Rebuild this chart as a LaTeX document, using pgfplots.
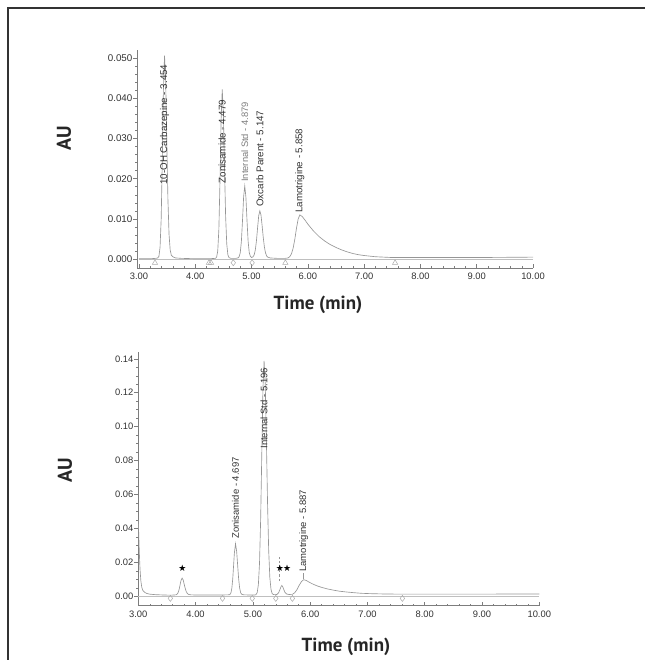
\documentclass[border=0pt]{standalone}
\usepackage{fontspec}
\setmainfont{Liberation Sans}
\newfontfamily\titlefont{PT Sans}
\newfontfamily\dejavu{DejaVu Sans}
\usepackage{pgfplots}
\pgfplotsset{compat=1.18}
\definecolor{tracegray}{RGB}{150,150,150}
\definecolor{axisgray}{RGB}{125,125,125}
\definecolor{labelgray}{RGB}{50,50,50}
\definecolor{markgray}{RGB}{170,170,170}
\definecolor{lightlabel}{RGB}{125,125,125}
\tikzset{peaklbl/.style={rotate=90, anchor=west, inner sep=0pt, text=labelgray}}
\begin{document}
\begin{tikzpicture}
\useasboundingbox (0,0) rectangle (645bp,660bp);
\pgfplotsset{
  chrom/.style={
    scale only axis, anchor=south west,
    axis x line*=bottom, axis y line*=left,
    axis line style={axisgray, line width=0.7bp},
    xtick={3,4,5,6,7,8,9,10}, minor x tick num=4,
    xtick align=inside, ytick align=outside,
    major tick length=4bp, minor tick length=2bp,
    every tick/.style={axisgray, line width=0.5bp},
    tick label style={font=\fontsize{9.4}{10}\selectfont, text=labelgray},
    xticklabel style={/pgf/number format/.cd, fixed, fixed zerofill, precision=2, assume math mode=true, /tikz/.cd, yshift=-1.5bp},
    scaled y ticks=false, scaled x ticks=false,
    clip=false,
  },
}
% ---------------- top chromatogram ----------------
\begin{axis}[chrom, at={(137.3bp,392bp)}, width=395.7bp, height=218bp,
  xmin=2.97, xmax=10, ymin=-0.0022, ymax=0.052,
  ytick={0,0.01,0.02,0.03,0.04,0.05}, minor y tick num=4,
  yticklabel style={font=\fontsize{9.8}{10}\selectfont, inner xsep=0.8bp, /pgf/number format/.cd, fixed, fixed zerofill, precision=3, assume math mode=true}]
\addplot[gray!50, line width=0.5bp] coordinates {(3,0) (10,0)};
\addplot[tracegray, line width=0.65bp] coordinates {
(3.00,0.0001) (3.20,0.0001) (3.30,0.0002) (3.334,0.0003) (3.354,0.0007) (3.374,0.0029) (3.394,0.0099) (3.414,0.0244) (3.434,0.0422) (3.454,0.0506) (3.474,0.0442) (3.494,0.0293) (3.514,0.0149) (3.534,0.0061) (3.554,0.0023) (3.574,0.0010) (3.60,0.0006) (3.65,0.0003) (3.75,0.0002) (4.00,0.0001) (4.25,0.0001) (4.359,0.0002) (4.379,0.0005) (4.399,0.0020) (4.419,0.0074) (4.439,0.0194) (4.459,0.0348) (4.479,0.0422) (4.499,0.0362) (4.519,0.0229) (4.539,0.0107) (4.559,0.0038) (4.579,0.0011) (4.599,0.0004) (4.63,0.0002) (4.675,0.0002) (4.72,0.0002) (4.759,0.0003) (4.779,0.0006) (4.799,0.0016) (4.819,0.0044) (4.839,0.0096) (4.859,0.0155) (4.879,0.0182) (4.899,0.0155) (4.919,0.0096) (4.939,0.0044) (4.959,0.0016) (4.979,0.0007) (5.00,0.0004) (5.027,0.0006) (5.047,0.0011) (5.067,0.0023) (5.087,0.0046) (5.107,0.0078) (5.127,0.0108) (5.147,0.0120) (5.167,0.0110) (5.187,0.0084) (5.207,0.0055) (5.227,0.0031) (5.247,0.0016) (5.267,0.0008) (5.287,0.0005) (5.33,0.0003) (5.45,0.0002) (5.60,0.0002) (5.648,0.0003) (5.678,0.0006) (5.708,0.0013) (5.738,0.0027) (5.768,0.0049) (5.798,0.0077) (5.828,0.0100) (5.858,0.0110) (5.90,0.0106) (5.95,0.0097) (6.00,0.0087) (6.10,0.0070) (6.20,0.0056) (6.30,0.0045) (6.40,0.0036) (6.50,0.0029) (6.60,0.0023) (6.70,0.0018) (6.80,0.0014) (6.90,0.0011) (7.00,0.0009) (7.20,0.0006) (7.50,0.0004) (8.00,0.0004) (9.00,0.0004) (10.00,0.0005)};
\addplot[only marks, mark=triangle, mark size=3bp, mark options={markgray, line width=0.5bp}] coordinates {
(3.284,-0.0009) (4.243,-0.0009) (4.28,-0.0009) (5.60,-0.0009) (7.55,-0.0009)};
\addplot[only marks, mark=diamond, mark size=3bp, mark options={markgray, line width=0.5bp}] coordinates {
(4.675,-0.0009) (5.01,-0.0009)};
\node[peaklbl, font=\fontsize{9.8}{10}\selectfont] at (axis cs:3.454,0.0185) {10-OH Carbazepine - 3.454};
\node[peaklbl, font=\fontsize{9.8}{10}\selectfont] at (axis cs:4.479,0.0188) {Zonisamide - 4.479};
\node[peaklbl, font=\fontsize{9.4}{10}\selectfont, text=lightlabel] at (axis cs:4.879,0.0192) {Internal Std - 4.879};
\node[peaklbl, font=\fontsize{9.8}{10}\selectfont] at (axis cs:5.147,0.0130) {Oxcarb Parent - 5.147};
\node[peaklbl, font=\fontsize{9.8}{10}\selectfont] at (axis cs:5.858,0.0115) {Lamotrigine - 5.858};
\end{axis}
% ---------------- bottom chromatogram ----------------
\begin{axis}[chrom, at={(138.3bp,54.3bp)}, width=401bp, height=253.7bp,
  xmin=3, xmax=10, ymin=-0.0055, ymax=0.144,
  ytick={0,0.02,0.04,0.06,0.08,0.10,0.12,0.14}, minor y tick num=3,
  yticklabel style={inner xsep=0.8bp, /pgf/number format/.cd, fixed, fixed zerofill, precision=2, assume math mode=true}]
\addplot[gray!50, line width=0.5bp] coordinates {(3,0) (10,0)};
\addplot[tracegray, line width=0.65bp] coordinates {
(3.000,0.0450) (3.010,0.0340) (3.020,0.0240) (3.030,0.0160) (3.045,0.0090) (3.060,0.0055) (3.080,0.0035) (3.110,0.0024) (3.150,0.0017) (3.200,0.0013) (3.300,0.0010) (3.450,0.0008) (3.560,0.0007) (3.625,0.0008) (3.655,0.0009) (3.675,0.0012) (3.695,0.0022) (3.715,0.0044) (3.730,0.0069) (3.745,0.0093) (3.765,0.0108) (3.785,0.0095) (3.800,0.0073) (3.815,0.0052) (3.835,0.0030) (3.855,0.0017) (3.880,0.0011) (3.920,0.0009) (4.000,0.0008) (4.200,0.0008) (4.450,0.0008) (4.567,0.0009) (4.597,0.0010) (4.617,0.0021) (4.633,0.0048) (4.649,0.0105) (4.665,0.0190) (4.677,0.0255) (4.697,0.0310) (4.717,0.0265) (4.733,0.0190) (4.751,0.0106) (4.769,0.0049) (4.787,0.0021) (4.810,0.0011) (4.850,0.0009) (4.950,0.0008) (5.036,0.0008) (5.056,0.0011) (5.076,0.0023) (5.096,0.0069) (5.116,0.0195) (5.136,0.0456) (5.156,0.0845) (5.176,0.1226) (5.196,0.1388) (5.216,0.1253) (5.236,0.0921) (5.256,0.0553) (5.276,0.0272) (5.296,0.0112) (5.316,0.0042) (5.336,0.0017) (5.356,0.0011) (5.380,0.0010) (5.420,0.0011) (5.450,0.0022) (5.470,0.0038) (5.490,0.0056) (5.505,0.0064) (5.520,0.0058) (5.540,0.0040) (5.560,0.0024) (5.590,0.0014) (5.630,0.0011) (5.690,0.0012) (5.730,0.0021) (5.770,0.0040) (5.810,0.0066) (5.850,0.0088) (5.887,0.0098) (5.930,0.0094) (5.980,0.0084) (6.050,0.0072) (6.120,0.0062) (6.200,0.0053) (6.300,0.0044) (6.400,0.0037) (6.500,0.0031) (6.600,0.0027) (6.750,0.0022) (6.900,0.0018) (7.050,0.0016) (7.300,0.0014) (7.600,0.0013) (8.500,0.0013) (10.000,0.0014)};
\addplot[tracegray, line width=0.7bp, dash pattern=on 2.5bp off 2bp] coordinates {(5.455,0.009) (5.455,0.023)};
\addplot[tracegray, line width=0.6bp] coordinates {(5.887,0.0100) (5.887,0.0135)};
\addplot[only marks, mark=diamond, mark size=3bp, mark options={markgray, line width=0.5bp}] coordinates {
(3.56,-0.0012) (4.47,-0.0012) (4.99,-0.0012) (5.40,-0.0012) (5.69,-0.0012) (7.61,-0.0012)};
\node[peaklbl, font=\fontsize{9.5}{10}\selectfont] at (axis cs:4.697,0.034) {Zonisamide - 4.697};
\node[peaklbl, font=\fontsize{9.5}{10}\selectfont] at (axis cs:5.196,0.087) {Internal Std - 5.196};
\node[peaklbl, font=\fontsize{9.5}{10}\selectfont] at (axis cs:5.887,0.0145) {Lamotrigine - 5.887};
\node[font=\dejavu\fontsize{9}{9}\selectfont, inner sep=0pt] at (axis cs:3.77,0.0168) {★};
\node[font=\dejavu\fontsize{9}{9}\selectfont, inner sep=0pt] at (axis cs:5.47,0.0168) {★};
\node[font=\dejavu\fontsize{9}{9}\selectfont, inner sep=0pt] at (axis cs:5.60,0.0168) {★};
\end{axis}
% ---------------- titles and frame ----------------
\node[font=\titlefont\bfseries\fontsize{19}{19}\selectfont, text=black!85] at (318bp,355bp) {Time (min)};
\node[font=\titlefont\bfseries\fontsize{19}{19}\selectfont, text=black!85] at (346bp,13bp) {Time (min)};
\node[rotate=90, font=\titlefont\bfseries\fontsize{20}{20}\selectfont, text=black!85] at (64bp,522bp) {AU};
\node[rotate=90, font=\titlefont\bfseries\fontsize{20}{20}\selectfont, text=black!85] at (65bp,190bp) {AU};
\draw[line width=1.4bp, black!80] (8bp,0bp) -- (8bp,652bp) -- (645bp,652bp);
\end{tikzpicture}
\end{document}
